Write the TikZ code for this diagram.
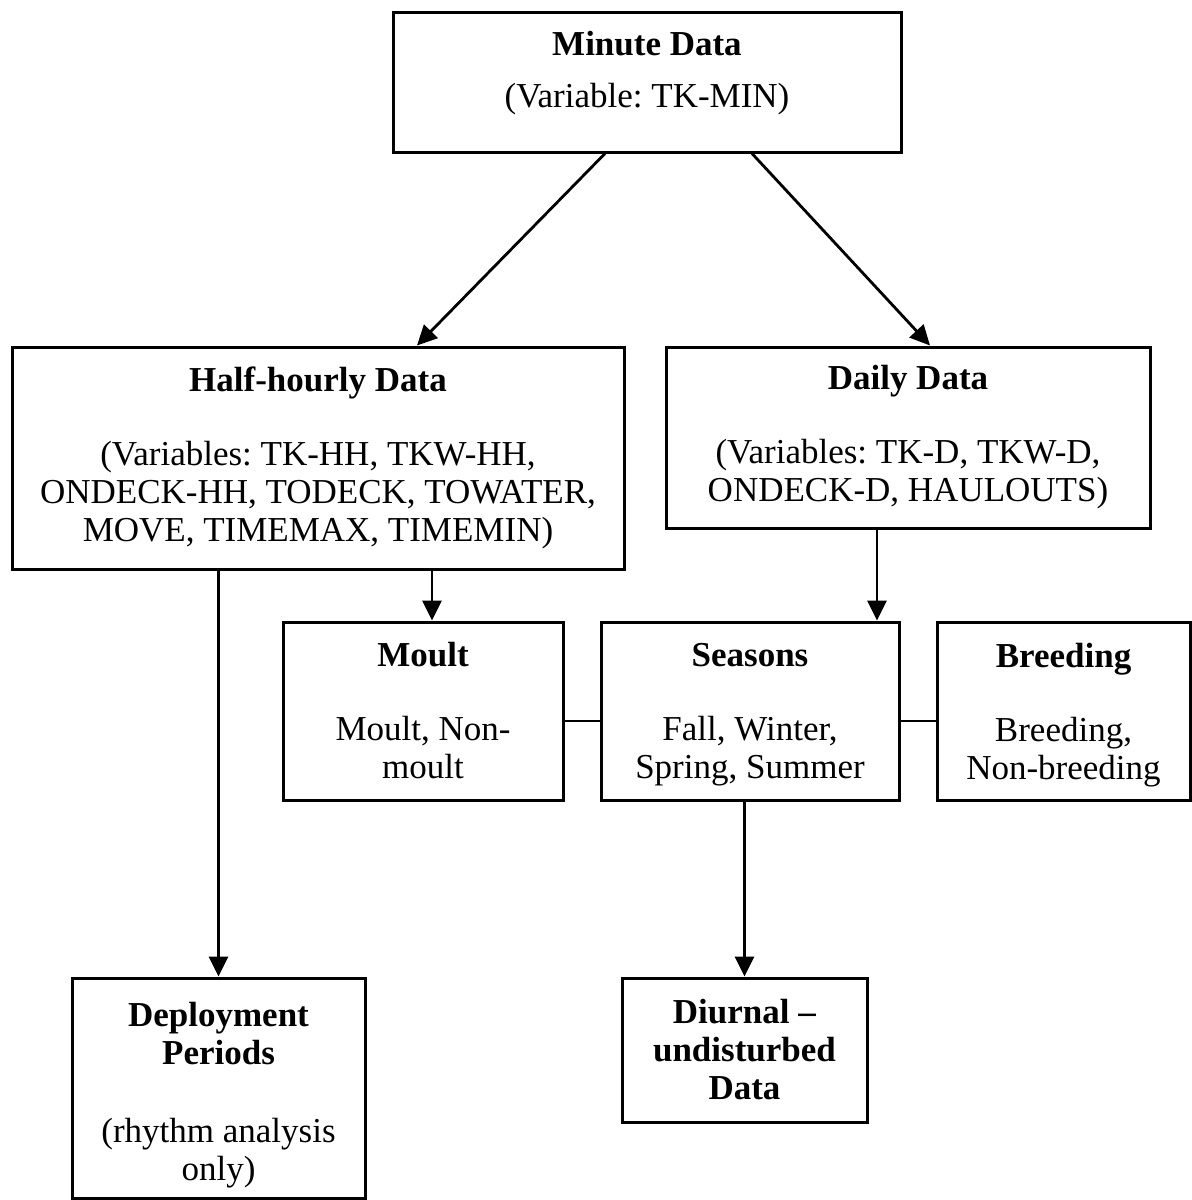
\documentclass[tikz,border=0pt]{standalone}
\usepackage{fontspec}
\setmainfont{Liberation Serif}
\usetikzlibrary{positioning, arrows.meta}
\frenchspacing

\begin{document}
\begin{tikzpicture}[
    x=0.5pt, y=-0.5pt,
    box/.style={
        draw,
        line width=1.5pt,
        inner sep=0pt,
        align=center,
        font=\fontsize{17.5}{19}\selectfont
    },
    arrow/.style={-{Triangle[length=10pt, width=9.5pt]}, line width=1.4pt},
    link/.style={line width=1.4pt}
]
\useasboundingbox (0,0) rectangle (1191,1200);

\node[box, minimum width=254pt, minimum height=70pt] (minute) at (647,82)
    {\textbf{Minute Data}\\[7pt](Variable: TK-MIN)\\[-12pt]\strut};
\node[box, minimum width=306pt, minimum height=111pt] (half) at (318,458)
    {\textbf{Half-hourly Data}\\[18pt](Variables: TK-HH, TKW-HH,\\ONDECK-HH, TODECK, TOWATER,\\MOVE, TIMEMAX, TIMEMIN)};
\node[box, minimum width=242pt, minimum height=90.5pt] (daily) at (908,437.5)
    {\textbf{Daily Data}\\[18pt](Variables: TK-D, TKW-D,\\ONDECK-D, HAULOUTS)};
\node[box, minimum width=140pt, minimum height=89pt] (moult) at (423,711)
    {\textbf{Moult}\\[18pt]Moult, Non-\\moult};
\node[box, minimum width=149pt, minimum height=89pt] (seasons) at (750,711)
    {\textbf{Seasons}\\[18pt]Fall, Winter,\\\smash{Spring, Summer}};
\node[box, minimum width=126.5pt, minimum height=89pt] (breeding) at (1063.5,711)
    {\textbf{Breeding}\\[18pt]Breeding,\\\smash{Non-breeding}};
\node[box, minimum width=146.5pt, minimum height=110pt] (deploy) at (218.5,1088)
    {\rule{0pt}{19pt}\textbf{Deployment}\\\textbf{Periods}\\[20pt](rhythm analysis\\only)};
\node[box, minimum width=122.5pt, minimum height=72pt] (diurnal) at (744.5,1050)
    {\textbf{Diurnal --}\\\textbf{undisturbed}\\\textbf{Data}};

\draw[arrow] ([xshift=-21pt]minute.south) -- ([xshift=49.5pt]half.north);
\draw[arrow] ([xshift=52.5pt]minute.south) -- ([xshift=11pt]daily.north);
\draw[arrow] (deploy.north |- half.south) -- (deploy.north);
\draw[arrow] ([xshift=4.5pt]moult.north |- half.south) -- ([xshift=4.5pt]moult.north);
\draw[arrow] ([xshift=-15.5pt]daily.south) -- ([xshift=-15.5pt]daily.south |- seasons.north);
\draw[link] ([yshift=-5pt]moult.east) -- ([yshift=-5pt]seasons.west);
\draw[link] ([yshift=-5pt]seasons.east) -- ([yshift=-5pt]breeding.west);
\draw[arrow] (diurnal.north |- seasons.south) -- (diurnal.north);

\end{tikzpicture}
\end{document}
